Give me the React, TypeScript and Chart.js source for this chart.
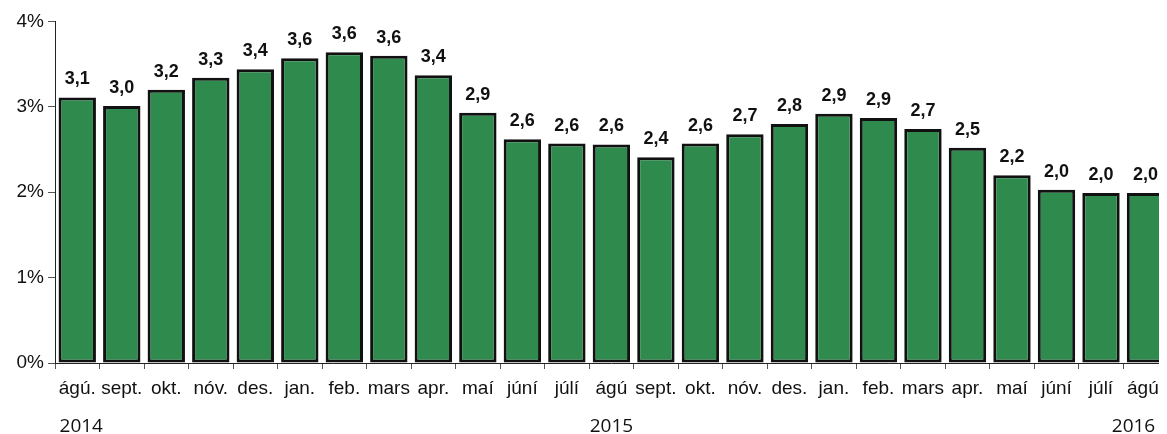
import React, { useEffect, useRef } from "react";
import { Chart, registerables } from "chart.js";

Chart.register(...registerables);

const months = [
  "ágú.", "sept.", "okt.", "nóv.", "des.", "jan.", "feb.", "mars", "apr.", "maí", "júní", "júlí",
  "ágú", "sept.", "okt.", "nóv.", "des.", "jan.", "feb.", "mars", "apr.", "maí", "júní", "júlí", "ágú.",
];
const values = [
  3.11, 3.01, 3.2, 3.34, 3.44, 3.57, 3.64, 3.6, 3.37, 2.93, 2.62, 2.57,
  2.56, 2.41, 2.57, 2.68, 2.8, 2.92, 2.87, 2.74, 2.52, 2.2, 2.03, 1.99, 1.99,
];
const years = ["2014", "2015", "2016"];
const yearIndex = [0, 12, 24];
const yTicks = [0, 1, 2, 3, 4];

const FONT = "Liberation Sans";

const fmt = (v: number) => (Math.round(v * 10) / 10).toFixed(1).replace(".", ",");

const labelPlugin = {
  id: "barLabels",
  afterDatasetsDraw(chart: any) {
    const ctx = chart.ctx;
    const meta = chart.getDatasetMeta(0);
    ctx.save();
    ctx.font = `bold 18px "${FONT}"`;
    ctx.fillStyle = "#111";
    ctx.textAlign = "center";
    ctx.textBaseline = "alphabetic";
    meta.data.forEach((bar: any, i: number) => {
      ctx.fillText(fmt(values[i]), bar.x, bar.y - 13);
    });
    ctx.restore();
  },
};

const yearPlugin = {
  id: "years",
  afterDraw(chart: any) {
    const ctx = chart.ctx;
    const x = chart.scales.x;
    const offs = [4, 0, -12];
    ctx.save();
    ctx.font = `19px "Open Sans"`;
    ctx.fillStyle = "#111";
    ctx.textAlign = "center";
    ctx.textBaseline = "alphabetic";
    years.forEach((y, k) => {
      ctx.fillText(y, x.getPixelForValue(yearIndex[k]) + offs[k], 424);
    });
    ctx.restore();
  },
};

export default function App() {
  const ref = useRef<HTMLCanvasElement>(null);
  useEffect(() => {
    if (!ref.current) return;
    const chart = new Chart(ref.current, {
      type: "bar",
      data: {
        labels: months,
        datasets: [
          {
            data: values,
            backgroundColor: "#2F8A4E",
            borderColor: "#111",
            borderWidth: 3,
            borderSkipped: false,
            categoryPercentage: 1,
            barPercentage: 0.84,
          },
        ],
      },
      options: {
        animation: false,
        responsive: true,
        maintainAspectRatio: false,
        layout: { padding: { top: 2, right: 0, bottom: 31, left: 0 } },
        plugins: { legend: { display: false }, tooltip: { enabled: false } },
        scales: {
          x: {
            offset: true,
            afterFit: (s: any) => {
              s.height = 40;
            },
            grid: { display: true, offset: true, drawOnChartArea: false, tickLength: 6, color: "#555" },
            border: { display: true, color: "#222", width: 1 },
            ticks: {
              color: "#111",
              font: { family: FONT, size: 19 },
              maxRotation: 0,
              autoSkip: false,
              padding: 8,
            },
          },
          y: {
            min: 0,
            max: 4,
            afterBuildTicks: (s: any) => {
              s.ticks = yTicks.map((v) => ({ value: v }));
            },
            afterFit: (s: any) => {
              s.width = 47;
            },
            grid: { display: true, drawOnChartArea: false, tickLength: 7, color: "#555" },
            border: { display: true, color: "#222", width: 1 },
            ticks: {
              color: "#111",
              font: { family: FONT, size: 19, lineHeight: 1 },
              padding: 4,
              callback: (v: any) => v + "%",
            },
          },
        },
      },
      plugins: [labelPlugin, yearPlugin],
    });
    return () => chart.destroy();
  }, []);
  return (
    <div style={{ width: 1159, height: 426, overflow: "hidden" }}>
      <div style={{ width: 1164, height: 426, position: "relative" }}>
        <canvas ref={ref} />
      </div>
    </div>
  );
}
